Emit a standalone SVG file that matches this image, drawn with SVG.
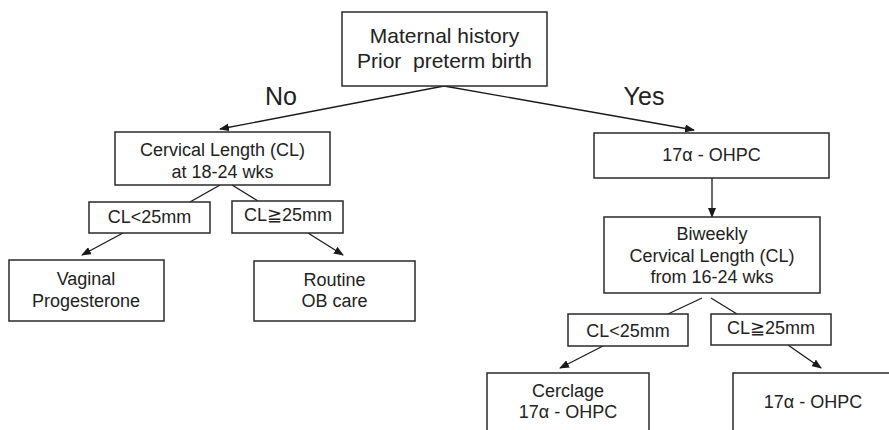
<svg xmlns="http://www.w3.org/2000/svg" width="889" height="430" viewBox="0 0 889 430">
<style>
.box{fill:#fff;stroke:#2a2a2a;stroke-width:1.5}
.t{font-family:"Liberation Sans",Arial,sans-serif;fill:#222;text-anchor:middle;font-size:18px}
.big{font-size:21px}
.lab{font-family:"Liberation Sans",Arial,sans-serif;fill:#222;text-anchor:middle;font-size:25px}
.c{stroke:#1a1a1a;stroke-width:1.3;fill:none}
.a{marker-end:url(#ah)}
</style>
<defs>
<marker id="ah" markerUnits="userSpaceOnUse" markerWidth="10" markerHeight="8" refX="9" refY="4" orient="auto">
<path d="M0,0 L10,4 L0,8 z" fill="#1a1a1a"/>
</marker>
</defs>
<rect width="889" height="430" fill="#fff"/>
<g id="connectors">
<line class="c a" x1="444" y1="86" x2="220" y2="129"/>
<line class="c a" x1="444" y1="86" x2="694" y2="130"/>
<line class="c" x1="220" y1="185" x2="190" y2="202"/>
<line class="c" x1="232" y1="185" x2="258" y2="201"/>
<line class="c a" x1="123" y1="233" x2="82" y2="255"/>
<line class="c a" x1="308" y1="233" x2="343" y2="255"/>
<line class="c a" x1="712" y1="178" x2="712" y2="217"/>
<line class="c" x1="702" y1="298" x2="668" y2="314"/>
<line class="c" x1="711" y1="298" x2="737" y2="314"/>
<line class="c a" x1="603" y1="346" x2="560" y2="368"/>
<line class="c a" x1="788" y1="345" x2="821" y2="368"/>
</g>
<g id="lbl-no"><text class="lab" x="281" y="105">No</text></g>
<g id="lbl-yes"><text class="lab" x="644" y="105">Yes</text></g>
<g id="n-history">
<rect class="box" x="342" y="12" width="205" height="74"/>
<text class="t big" x="444.5" y="43">Maternal history</text>
<text class="t big" x="444.5" y="68" xml:space="preserve">Prior  preterm birth</text>
</g>
<g id="n-cl">
<rect class="box" x="115" y="132" width="215" height="53"/>
<text class="t" x="222.5" y="156">Cervical Length (CL)</text>
<text class="t" x="222.5" y="178">at 18-24 wks</text>
</g>
<g id="n-cl-lt">
<rect class="box" x="89" y="202" width="121" height="31"/>
<text class="t" x="149.5" y="223">CL&lt;25mm</text>
</g>
<g id="n-cl-ge">
<rect class="box" x="232" y="201" width="111" height="32"/>
<text class="t" x="288" y="221">CL≧25mm</text>
</g>
<g id="n-vaginal">
<rect class="box" x="9" y="260" width="155" height="61"/>
<text class="t" x="86" y="285">Vaginal</text>
<text class="t" x="86" y="307">Progesterone</text>
</g>
<g id="n-routine">
<rect class="box" x="254" y="261" width="161" height="60"/>
<text class="t" x="334.5" y="286">Routine</text>
<text class="t" x="334.5" y="307">OB care</text>
</g>
<g id="n-ohpc">
<rect class="box" x="594" y="133" width="235" height="45"/>
<text class="t" x="711.5" y="161">17α - OHPC</text>
</g>
<g id="n-biweekly">
<rect class="box" x="604" y="217" width="216" height="76"/>
<text class="t" x="712" y="240">Biweekly</text>
<text class="t" x="712" y="262">Cervical Length (CL)</text>
<text class="t" x="712" y="283">from 16-24 wks</text>
</g>
<g id="n-cl2-lt">
<rect class="box" x="568" y="314" width="120" height="32"/>
<text class="t" x="628" y="337">CL&lt;25mm</text>
</g>
<g id="n-cl2-ge">
<rect class="box" x="711" y="314" width="120" height="31"/>
<text class="t" x="771" y="334">CL≧25mm</text>
</g>
<g id="n-cerclage">
<rect class="box" x="487" y="373" width="162" height="70"/>
<text class="t" x="568" y="397">Cerclage</text>
<text class="t" x="568" y="418">17α - OHPC</text>
</g>
<g id="n-ohpc2">
<rect class="box" x="733" y="373" width="170" height="70"/>
<text class="t" x="813" y="408">17α - OHPC</text>
</g>
</svg>
